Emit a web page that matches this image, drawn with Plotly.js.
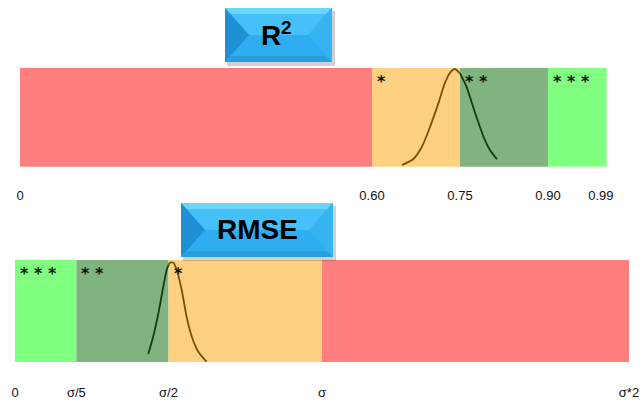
<!DOCTYPE html>
<html>
<head>
<meta charset="utf-8">
<script src="https://cdn.plot.ly/plotly-3.0.1.min.js"></script>
<style>html,body{margin:0;padding:0;background:#fff;}#chart{width:643px;height:403px;}</style>
</head>
<body>
<div id="chart"></div>
<script>
// ---- data ----
var r2Edges = [0, 0.60, 0.75, 0.90, 1.00];
var r2Stars = ["", "*", "* *", "* * *"];
var r2TickVals = [0, 0.60, 0.75, 0.90, 0.99];
var r2TickText = ["0", "0.60", "0.75", "0.90", "0.99"];
var r2CurveX = [0.651, 0.670, 0.685, 0.699, 0.713, 0.724, 0.733, 0.741, 0.750, 0.761, 0.776, 0.790, 0.801, 0.813];
var r2CurveY = [0.017, 0.075, 0.202, 0.404, 0.640, 0.842, 0.949, 0.987, 0.943, 0.808, 0.539, 0.303, 0.169, 0.075];

var rmseEdges = [0, 0.2, 0.5, 1.0, 2.0];
var rmseStars = ["* * *", "* *", "*", ""];
var rmseTickVals = [0, 0.2, 0.5, 1.0, 2.0];
var rmseTickText = ["0", "σ/5", "σ/2", "σ", "σ*2"];
var rmseCurveX = [0.434, 0.450, 0.467, 0.483, 0.494, 0.500, 0.505, 0.516, 0.527, 0.543, 0.559, 0.576, 0.597, 0.624];
var rmseCurveY = [0.078, 0.248, 0.477, 0.738, 0.902, 0.951, 0.974, 0.974, 0.902, 0.706, 0.444, 0.248, 0.101, 0.003];

// ---- styles ----
var r2Colors = ["#FF7F7F", "#FFD080", "#80B380", "#80FF80"];
var rmseColors = ["#80FF80", "#80B380", "#FFD080", "#FF7F7F"];
var brown = "#7A5000", dgreen = "#103F10";

function splitCurve(xs, ys, cut, below) {
  var ox = [], oy = [];
  for (var i = 0; i < xs.length; i++) {
    if ((below && xs[i] <= cut) || (!below && xs[i] >= cut)) { ox.push(xs[i]); oy.push(ys[i]); }
  }
  return {x: ox, y: oy};
}

var r2Lo = splitCurve(r2CurveX, r2CurveY, r2Edges[2], true);
var r2Hi = splitCurve(r2CurveX, r2CurveY, r2Edges[2], false);
var rmLo = splitCurve(rmseCurveX, rmseCurveY, rmseEdges[2], true);
var rmHi = splitCurve(rmseCurveX, rmseCurveY, rmseEdges[2], false);

var lw = 1.8;
var traces = [
  {x: r2Lo.x, y: r2Lo.y, xaxis: "x", yaxis: "y", mode: "lines", line: {color: brown, width: lw, shape: "spline", smoothing: 0.6}, hoverinfo: "skip"},
  {x: r2Hi.x, y: r2Hi.y, xaxis: "x", yaxis: "y", mode: "lines", line: {color: dgreen, width: lw, shape: "spline", smoothing: 0.6}, hoverinfo: "skip"},
  {x: rmLo.x, y: rmLo.y, xaxis: "x2", yaxis: "y2", mode: "lines", line: {color: dgreen, width: lw, shape: "spline", smoothing: 0.6}, hoverinfo: "skip"},
  {x: rmHi.x, y: rmHi.y, xaxis: "x2", yaxis: "y2", mode: "lines", line: {color: brown, width: lw, shape: "spline", smoothing: 0.6}, hoverinfo: "skip"}
];

var shapes = [], annotations = [];
function bands(edges, colors, stars, xr, yr) {
  for (var i = 0; i < colors.length; i++) {
    shapes.push({type: "rect", xref: xr, yref: yr, x0: edges[i], x1: edges[i+1], y0: 0, y1: 1,
      fillcolor: colors[i], line: {width: 0}, layer: "below"});
    if (stars[i]) {
      annotations.push({xref: xr, yref: yr, x: edges[i], y: 1, xanchor: "left", yanchor: "top",
        xshift: 3, yshift: -2, text: "<b>" + stars[i] + "</b>", showarrow: false,
        font: {family: "DejaVu Sans", size: 16, color: "#111"}});
    }
  }
}
bands(r2Edges, r2Colors, r2Stars, "x", "y");
bands(rmseEdges, rmseColors, rmseStars, "x2", "y2");

// title buttons (pixel geometry -> paper)
var W = 643, H = 403;
function px(x) { return x / W; }
function py(y) { return 1 - y / H; }
function poly(pts) {
  return "M" + pts.map(function (p) { return px(p[0]) + "," + py(p[1]); }).join(" L") + " Z";
}
var titleFont = "Liberation Sans, Arial";
function button(x0, y0, x1, y1) {
  var d = 24, ym = (y0 + y1) / 2, t = 6, b = 6;
  shapes.push({type: "rect", xref: "paper", yref: "paper", x0: px(x0 + 2), x1: px(x1 + 3), y0: py(y1 + 4), y1: py(y0 + 3),
    fillcolor: "rgba(0,0,0,0.18)", line: {width: 0}, layer: "above"});
  shapes.push({type: "rect", xref: "paper", yref: "paper", x0: px(x0), x1: px(x1), y0: py(y1), y1: py(y0),
    fillcolor: "#2EAEF0", line: {width: 0}, layer: "above"});
  shapes.push({type: "path", xref: "paper", yref: "paper", path: poly([[x0, y0], [x1, y0], [x1 - d, ym], [x0 + d, ym]]),
    fillcolor: "#45C0F8", line: {width: 0}, layer: "above"});
  shapes.push({type: "path", xref: "paper", yref: "paper", path: poly([[x0, y0], [x1, y0], [x1 - t, y0 + t], [x0 + t, y0 + t]]),
    fillcolor: "#6AD6FC", line: {width: 0}, layer: "above"});
  shapes.push({type: "path", xref: "paper", yref: "paper", path: poly([[x0, y0], [x0 + d, ym], [x0, y1]]),
    fillcolor: "#1F8FD6", line: {width: 0}, layer: "above"});
  shapes.push({type: "path", xref: "paper", yref: "paper", path: poly([[x1, y0], [x1 - d, ym], [x1, y1]]),
    fillcolor: "#36B4F2", line: {width: 0}, layer: "above"});
  shapes.push({type: "path", xref: "paper", yref: "paper", path: poly([[x0, y1], [x1, y1], [x1 - b, y1 - b], [x0 + b, y1 - b]]),
    fillcolor: "#2A9FE0", line: {width: 0}, layer: "above"});
}
function label(x, y, text, size, anchor, xs) {
  annotations.push({xref: "paper", yref: "paper", x: px(x), y: py(y), xanchor: anchor, yanchor: "middle",
    xshift: xs || 0, borderpad: 0,
    text: "<b>" + text + "</b>", showarrow: false, font: {family: titleFont, size: size, color: "#000"}});
}
button(225, 8, 332, 62);
label(282, 36, "R", 28, "right", 0);
label(282, 28, "2", 19, "left", -2);
button(181, 203, 333, 257);
label(257, 230, "RMSE", 28, "center", 0);

var axisCommon = {showgrid: false, zeroline: false, showline: false, ticks: "", fixedrange: true,
  tickfont: {family: "Liberation Sans, Arial", size: 13, color: "#111"}};

var layout = {
  width: W, height: H,
  margin: {l: 0, r: 0, t: 0, b: 0},
  paper_bgcolor: "#fff", plot_bgcolor: "rgba(0,0,0,0)",
  showlegend: false,
  xaxis: Object.assign({}, axisCommon, {anchor: "y", range: [-20 / 586.7, 623 / 586.7], tickmode: "array",
    tickvals: r2TickVals, ticktext: r2TickText}),
  yaxis: {domain: [1 - 186 / H, 1 - 67.7 / H], range: [-(186 - 166.7) / 99, 1], visible: false, fixedrange: true},
  xaxis2: Object.assign({}, axisCommon, {anchor: "y2", range: [-15 / 307, 628 / 307], tickmode: "array",
    tickvals: rmseTickVals, ticktext: rmseTickText}),
  yaxis2: {domain: [1 - 383 / H, 1 - 260 / H], range: [-(383 - 362) / 102, 1], visible: false, fixedrange: true},
  shapes: shapes,
  annotations: annotations
};

Plotly.newPlot("chart", traces, layout, {displayModeBar: false, staticPlot: true});
</script>
</body>
</html>
